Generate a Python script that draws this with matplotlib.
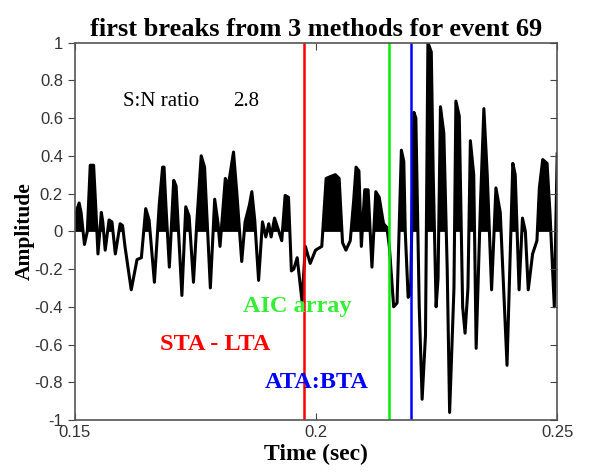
import matplotlib
matplotlib.use("Agg")
import matplotlib.pyplot as plt
import numpy as np
from matplotlib.ticker import FuncFormatter

# trace (time in sec, normalised amplitude)
t = [0.1500, 0.1509, 0.1513, 0.1520, 0.1526, 0.1532, 0.1539, 0.1544, 0.1548, 0.1555,
     0.1558, 0.1563, 0.1571, 0.1577, 0.1584, 0.1594, 0.1599, 0.1604, 0.1617, 0.1629,
     0.1638, 0.1647, 0.1654, 0.1665, 0.1675, 0.1682, 0.1685, 0.1689, 0.1696, 0.1705,
     0.1710, 0.1722, 0.1730, 0.1737, 0.1746, 0.1753, 0.1762, 0.1769, 0.1781, 0.1790,
     0.1797, 0.1801, 0.1812, 0.1818, 0.1829, 0.1836, 0.1846, 0.1853, 0.1862, 0.1867,
     0.1873, 0.1881, 0.1889, 0.1896, 0.1902, 0.1907, 0.1914, 0.1923, 0.1929, 0.1936,
     0.1943, 0.1949, 0.1954, 0.1961, 0.1971, 0.1978, 0.1988, 0.1999, 0.2012, 0.2021,
     0.2030, 0.2040, 0.2048, 0.2055, 0.2062, 0.2071, 0.2078, 0.2083, 0.2089, 0.2094,
     0.2101, 0.2108, 0.2116, 0.2124, 0.2131, 0.2140, 0.2147, 0.2152, 0.2161, 0.2168,
     0.2177, 0.2182, 0.2185, 0.2191, 0.2196, 0.2203, 0.2207, 0.2214, 0.2220, 0.2227,
     0.2232, 0.2239, 0.2243, 0.2249, 0.2253, 0.2258, 0.2265, 0.2272, 0.2277, 0.2286,
     0.2290, 0.2297, 0.2304, 0.2309, 0.2315, 0.2320, 0.2327, 0.2332, 0.2341, 0.2348,
     0.2355, 0.2364, 0.2373, 0.2382, 0.2396, 0.2408, 0.2413, 0.2421, 0.2428, 0.2434,
     0.2440, 0.2449, 0.2458, 0.2463, 0.2470, 0.2479, 0.2485, 0.2494, 0.2500]
amp = [0.08, 0.15, 0.10, -0.07, 0.00, 0.35, 0.35, 0.10, -0.12, 0.10,
       0.05, -0.10, 0.06, 0.05, -0.12, 0.04, 0.03, -0.08, -0.31, -0.15,
       -0.14, 0.12, 0.06, -0.27, 0.14, 0.34, 0.34, 0.13, -0.19, 0.27,
       0.24, -0.34, 0.13, 0.08, -0.27, 0.05, 0.40, 0.34, -0.30, 0.17,
       0.04, -0.08, 0.28, 0.24, 0.42, 0.20, -0.16, 0.05, 0.14, 0.21,
       0.06, -0.26, 0.05, -0.03, 0.04, -0.03, 0.07, 0.00, -0.05, 0.19,
       0.18, -0.21, -0.20, -0.14, -0.37, -0.08, -0.17, -0.10, -0.08, 0.28,
       0.29, 0.30, 0.28, -0.06, -0.10, -0.05, 0.16, 0.34, 0.32, -0.08,
       0.22, 0.22, -0.19, 0.21, 0.18, 0.04, 0.02, -0.08, -0.40, -0.38,
       0.43, 0.37, 0.00, -0.35, -0.33, 0.63, 0.60, -0.40, -0.89, -0.55,
       1.00, 0.95, 0.30, -0.40, -0.25, 0.66, 0.52, -0.20, -0.96, -0.30,
       0.69, 0.61, -0.40, -0.54, -0.30, 0.48, 0.30, -0.62, 0.15, 0.65,
       0.30, -0.31, 0.23, 0.10, -0.71, 0.36, 0.30, -0.31, 0.07, 0.00,
       -0.31, -0.12, -0.05, 0.23, 0.38, 0.36, 0.10, -0.40, 0.41]

# first break picks (sec)
pick_sta_lta = 0.1975
pick_aic = 0.2151
pick_ata_bta = 0.2197
sn_ratio = 2.8

t = np.array(t)
amp = np.array(amp)

fig = plt.figure(figsize=(5.89, 4.73), dpi=100)
ax = fig.add_axes([0.127, 0.112, 0.819, 0.798])

ax.fill_between(t, amp, 0, where=amp > 0, interpolate=True, color='black', linewidth=0.8)
ax.plot(t, amp, color='black', linewidth=2.2)

ax.axvline(pick_sta_lta, color='red', linewidth=1.8)
ax.axvline(pick_aic, color='#00ee00', linewidth=1.8)
ax.axvline(pick_ata_bta, color='blue', linewidth=1.8)

ax.set_xlim(0.15, 0.25)
ax.set_ylim(-1, 1)
ax.set_xticks([0.15, 0.2, 0.25])
ax.set_yticks(np.arange(-1, 1.01, 0.2))
fmt = FuncFormatter(lambda v, p: '%g' % (round(v, 2) + 0.0))
ax.xaxis.set_major_formatter(fmt)
ax.yaxis.set_major_formatter(fmt)
ax.tick_params(axis='x', direction='in', top=True, length=5)
ax.tick_params(axis='y', direction='out', length=5)
ax.tick_params(labelsize=12, colors='#444444', labelcolor='#333333')
for s in ax.spines.values():
    s.set_color('#555555')
    s.set_linewidth(1.2)
for lab in ax.get_xticklabels() + ax.get_yticklabels():
    lab.set_family('Liberation Sans')

# inward ticks on the right side
ax_r = ax.twinx()
ax_r.set_ylim(-1, 1)
ax_r.set_yticks(np.arange(-1, 1.01, 0.2))
ax_r.tick_params(axis='y', direction='in', length=5, labelright=False, colors='#444444')
for s in ax_r.spines.values():
    s.set_visible(False)

serif = 'Liberation Serif'
ax.set_title('first breaks from 3 methods for event 69', family=serif,
             fontweight='bold', fontsize=19, pad=5)
ax.set_xlabel('Time (sec)', family=serif, fontweight='bold', fontsize=17, labelpad=3)
ax.set_ylabel('Amplitude', family=serif, fontweight='bold', fontsize=15.5, labelpad=0)

ax.text(0.1600, 0.69, 'S:N ratio', family=serif, fontsize=15, va='center')
ax.text(0.1828, 0.69, '%g' % sn_ratio, family=serif, fontsize=15, va='center')
ax.text(0.1849, -0.40, 'AIC array', family=serif, fontsize=17.5, fontweight='bold',
        color='#33ee33', va='center')
ax.text(0.1676, -0.60, 'STA - LTA', family=serif, fontsize=17.5, fontweight='bold',
        color='red', va='center')
ax.text(0.1894, -0.80, 'ATA:BTA', family=serif, fontsize=17.5, fontweight='bold',
        color='blue', va='center')

fig.savefig('out.png', dpi=100)
